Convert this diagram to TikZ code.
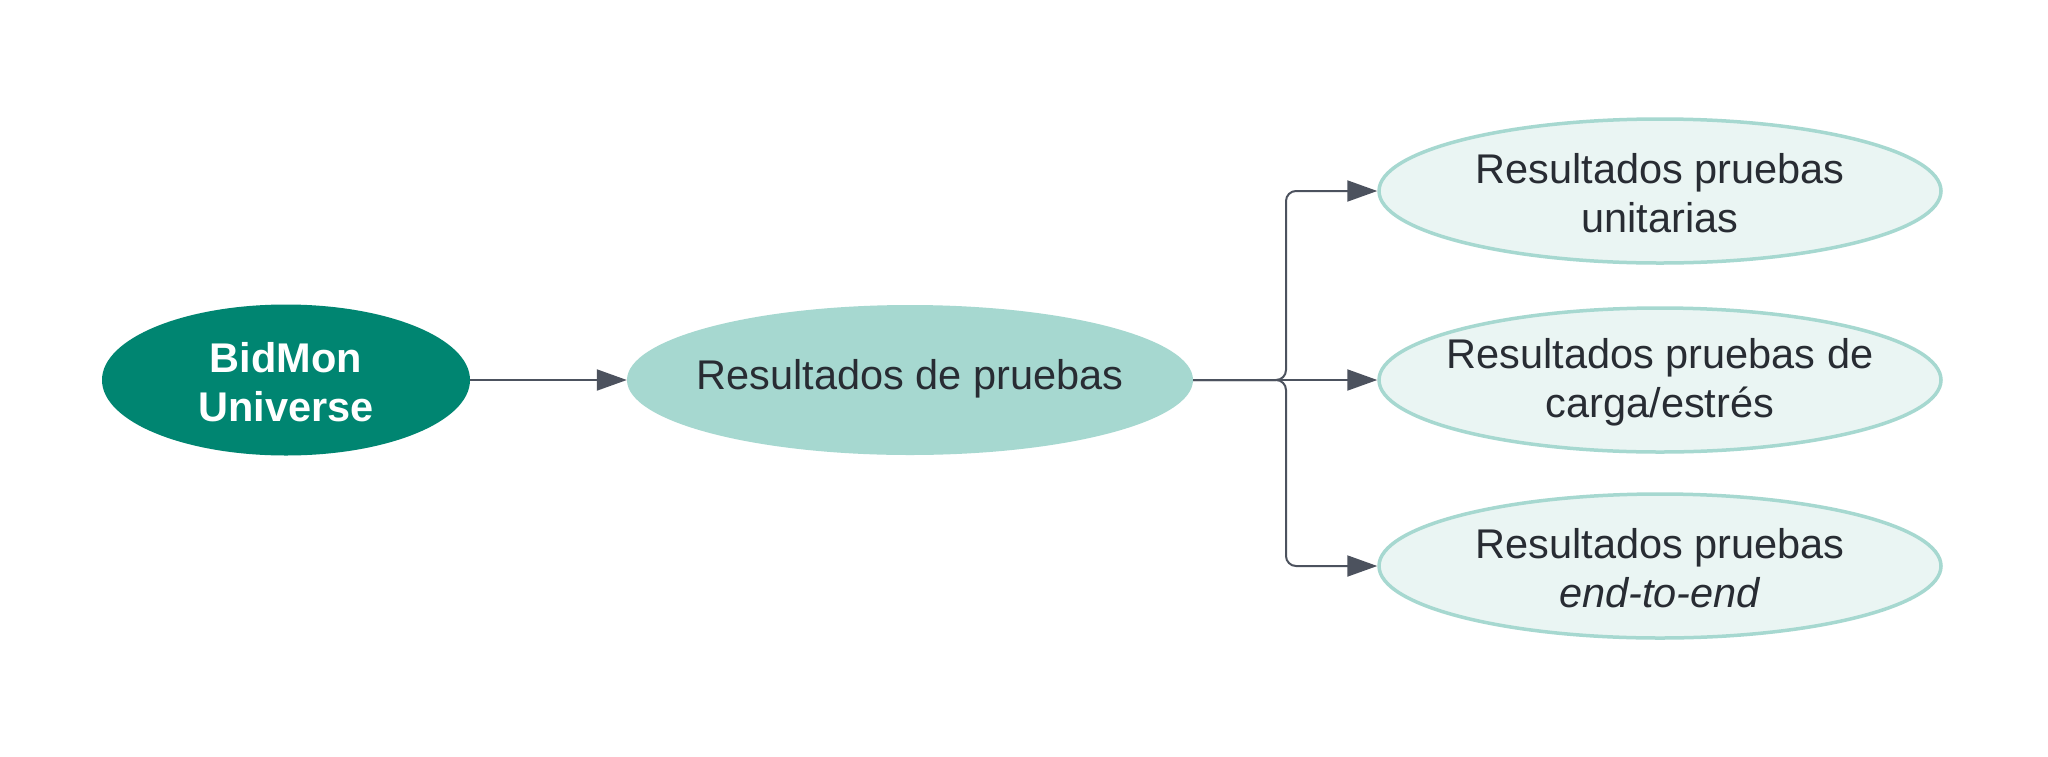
\documentclass[tikz,border=0pt]{standalone}
\usepackage{fontspec}
\setmainfont{Liberation Sans}
\usetikzlibrary{shapes.geometric,arrows.meta}
\definecolor{darkteal}{HTML}{008571}
\definecolor{midteal}{HTML}{A6D8D0}
\definecolor{paleteal}{HTML}{EAF5F3}
\definecolor{txtcol}{HTML}{282C33}
\definecolor{arrcol}{HTML}{4C525E}
\tikzset{
  ell/.style={ellipse, inner sep=0pt},
  rootell/.style={ell, fill=darkteal, minimum width=368pt, minimum height=151pt},
  midell/.style={ell, fill=midteal, minimum width=566pt, minimum height=150pt},
  leafell/.style={ell, fill=paleteal, draw=midteal, line width=3.5pt, minimum width=562pt, minimum height=144pt},
  lbl/.style={align=center, text=txtcol, font=\fontsize{41.5}{49}\selectfont, inner sep=0pt},
  conn/.style={draw=arrcol, line width=2pt, -{Triangle[length=30pt,width=21pt]}, rounded corners=10pt},
}
\begin{document}
\begin{tikzpicture}[x=1pt,y=-1pt]
\useasboundingbox[fill=white] (0,0) rectangle (2048,756);
\node[rootell] (root) at (286,380) {};
\node[lbl, text=white, font=\fontsize{41.5}{49}\selectfont\bfseries] (rootT) at (286,382) {BidMon\\Universe};
\node[midell] (mid) at (910,380) {};
\node[lbl] (midT) at (910,379) {Resultados de pruebas};
\node[leafell] (l1) at (1660,191) {};
\node[lbl] (l1T) at (1660,193) {Resultados pruebas\\unitarias};
\node[leafell] (l2) at (1660,380) {};
\node[lbl] (l2T) at (1660,382) {Resultados pruebas de\\carga/estrés};
\node[leafell] (l3) at (1660,566) {};
\node[lbl] (l3T) at (1660,568) {Resultados pruebas\\\textit{end-to-end}};
\coordinate (j) at (1286,380);
\draw[conn] (root.east) -- (mid.west);
\draw[conn] (mid.east) -- (l2.west);
\draw[conn] (mid.east) -- (j) -- (j |- l1.west) -- (l1.west);
\draw[conn] (mid.east) -- (j) -- (j |- l3.west) -- (l3.west);
\end{tikzpicture}
\end{document}
